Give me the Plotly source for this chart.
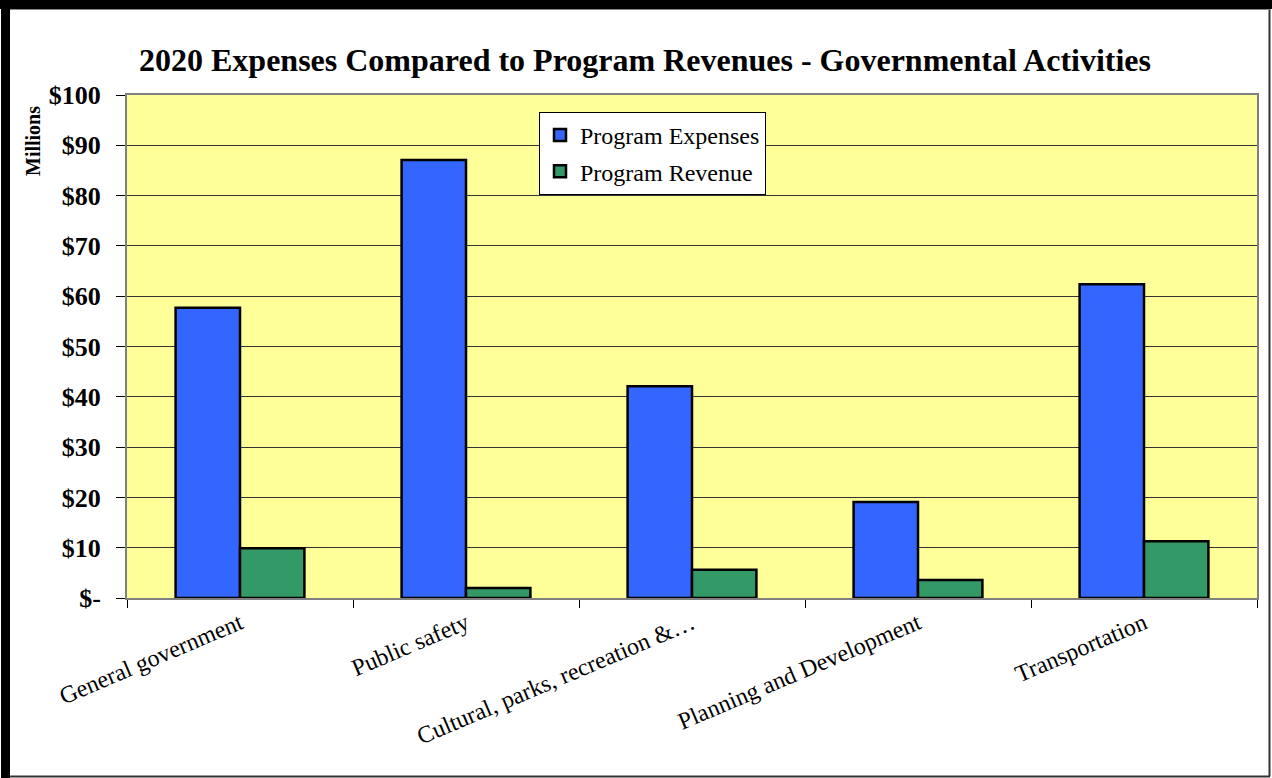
import plotly.graph_objects as go

categories = ["General government", "Public safety", "Cultural, parks, recreation &…",
              "Planning and Development", "Transportation"]
expenses = [57.7, 87.1, 42.1, 19.1, 62.4]
revenue = [9.9, 2.0, 5.6, 3.6, 11.3]
y_ticks = [0, 10, 20, 30, 40, 50, 60, 70, 80, 90, 100]
y_labels = ["$-", "$10", "$20", "$30", "$40", "$50", "$60", "$70", "$80", "$90", "$100"]

W, H = 1272, 778
L, R, T, B = 127, 15, 95, 180
pw, ph = W - L - R, H - T - B

def px(x):
    return (x - L) / pw

def py(y):
    return (H - B - y) / ph

fig = go.Figure()
fig.add_trace(go.Bar(name="Program Expenses", x=categories, y=expenses,
                     marker=dict(color="#3366FF", line=dict(color="black", width=2.5)),
                     legendgroup="a"))
fig.add_trace(go.Bar(name="Program Revenue", x=categories, y=revenue,
                     marker=dict(color="#339966", line=dict(color="black", width=2.5)),
                     legendgroup="b"))

serif = "Liberation Serif, Times New Roman, serif"

shapes = [
    dict(type="rect", xref="paper", yref="paper", x0=px(0), x1=px(W), y0=py(-2), y1=py(9),
         fillcolor="black", line=dict(width=0), layer="above"),
    dict(type="rect", xref="paper", yref="paper", x0=px(1), x1=px(10), y0=py(0), y1=py(H),
         fillcolor="black", line=dict(width=0), layer="above"),
    dict(type="line", xref="paper", yref="paper", x0=px(1269.5), x1=px(1269.5), y0=py(9), y1=py(776.5),
         line=dict(color="#333333", width=2), layer="above"),
    dict(type="line", xref="paper", yref="paper", x0=px(10), x1=px(1270), y0=py(776.5), y1=py(776.5),
         line=dict(color="#333333", width=2), layer="above"),
    dict(type="line", xref="paper", yref="paper", x0=px(10), x1=px(1270), y0=py(9.5), y1=py(9.5),
         line=dict(color="#888888", width=1), layer="above"),
]

fig.update_layout(
    width=W, height=H,
    margin=dict(l=L, r=R, t=T, b=B, autoexpand=False),
    paper_bgcolor="white",
    plot_bgcolor="#FFFF99",
    barmode="group",
    bargap=0.43,
    bargroupgap=0,
    title=dict(text="<b>2020 Expenses Compared to Program Revenues - Governmental Activities</b>",
               x=645 / W, xanchor="center", y=1 - 60 / H, yanchor="middle",
               font=dict(family=serif, size=32, color="black")),
    legend=dict(x=px(539), y=py(112), xanchor="left", yanchor="top",
                bgcolor="white", bordercolor="black", borderwidth=1,
                font=dict(family=serif, size=24, color="black"),
                traceorder="grouped", tracegroupgap=2),
    shapes=shapes,
    annotations=[dict(text="<b>Millions</b>", xref="paper", yref="paper",
                      x=px(33), y=py(141), xanchor="center", yanchor="middle",
                      textangle=-90, showarrow=False,
                      font=dict(family=serif, size=20, color="black"))],
    showlegend=True,
)

fig.update_xaxes(
    type="category",
    tickangle=-23,
    tickfont=dict(family=serif, size=24, color="black"),
    ticks="outside", tickson="boundaries", ticklen=8, tickcolor="black",
    showline=True, linecolor="#808080", linewidth=2, mirror=True,
    showgrid=False,
)
fig.update_yaxes(
    range=[0, 100],
    tickvals=y_ticks, ticktext=["<b>" + t + "</b>" for t in y_labels],
    tickfont=dict(family=serif, size=26, color="black"),
    ticks="outside", ticklen=9, tickcolor="black",
    ticklabelstandoff=10,
    showline=True, linecolor="#808080", linewidth=2, mirror=True,
    showgrid=True, gridcolor="#333333", gridwidth=1,
    zeroline=False,
)

fig.write_html("out.html", config={"displayModeBar": False},
               post_script="document.body.style.margin='0px';")
